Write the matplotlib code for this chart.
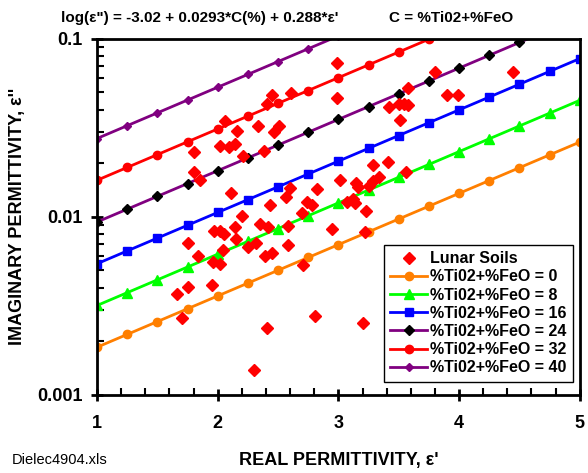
import numpy as np
from matplotlib import pyplot as plt
from matplotlib.ticker import MultipleLocator, LogLocator, NullFormatter

plt.rcParams['font.family'] = ['Liberation Sans', 'DejaVu Sans']

# lunar soil samples: real permittivity, imaginary permittivity
soil_eps_real = [2.99, 3.80, 4.45, 3.58, 3.90, 3.99, 2.99, 3.42, 3.50, 3.54,
                 3.58, 3.51, 2.45, 2.61, 2.41, 2.06, 2.16, 2.33, 2.51, 2.47,
                 1.80, 2.02, 2.09, 2.14, 2.21, 2.38, 1.80, 1.85, 2.11, 2.43,
                 2.60, 2.57, 2.82, 2.74, 2.78, 2.70, 2.20, 3.29, 3.41, 3.56,
                 3.01, 3.15, 3.16, 3.29, 3.34, 3.25, 3.07, 3.12, 3.14, 3.23,
                 2.95, 3.22, 2.14, 1.97, 2.02, 2.05, 2.35, 2.42, 2.58, 2.15,
                 1.75, 2.32, 2.25, 2.58, 2.04, 1.84, 1.96, 2.02, 2.39, 2.45,
                 2.71, 1.75, 1.95, 1.66, 1.70, 2.81, 2.41, 3.20, 2.30]
soil_eps_imag = [0.0733, 0.0653, 0.0653, 0.0531, 0.0484, 0.0484, 0.0466, 0.0415, 0.0431, 0.0431,
                 0.0426, 0.0351, 0.0484, 0.0497, 0.0431, 0.0346, 0.0304, 0.0325, 0.0325, 0.0300,
                 0.0232, 0.0251, 0.0247, 0.0257, 0.0220, 0.0235, 0.0179, 0.0161, 0.0136, 0.0117,
                 0.0146, 0.0130, 0.0144, 0.0121, 0.0117, 0.0105, 0.0101, 0.0196, 0.0204, 0.0179,
                 0.0161, 0.0155, 0.0148, 0.0159, 0.0168, 0.0149, 0.0121, 0.0126, 0.0120, 0.0108,
                 0.00857, 0.00824, 0.00879, 0.00834, 0.00834, 0.00802, 0.00914, 0.00879, 0.00890, 0.00752,
                 0.00714, 0.00714, 0.00678, 0.00696, 0.00653, 0.00604, 0.00559, 0.00545, 0.00604, 0.00628,
                 0.00537, 0.00404, 0.00415, 0.00369, 0.00271, 0.00278, 0.00238, 0.00254, 0.00138]

# model from the chart heading: log(e'') = a + b*C + c*e'
fit_a = -3.02
fit_b = 0.0293
fit_c = 0.288
compositions = [0, 8, 16, 24, 32, 40]
model_eps_real = [1.0, 1.25, 1.5, 1.75, 2.0, 2.25, 2.5, 2.75, 3.0,
                  3.25, 3.5, 3.75, 4.0, 4.25, 4.5, 4.75, 5.0]

line_colors = ['#FF7F00', '#00FF00', '#0000FF', '#800080', '#FF0000', '#800080']
marker_colors = ['#FF7F00', '#00FF00', '#0000FF', '#000000', '#FF0000', '#800080']
markers = ['o', '^', 's', 'D', 'o', 'D']
marker_sizes = [6, 6.5, 6, 4.8, 6, 4.3]

fig = plt.figure(figsize=(5.88, 4.73), dpi=100)
ax = fig.add_axes([0.165, 0.165, 0.821, 0.753])

ax.plot(soil_eps_real, soil_eps_imag, ls='none', marker='D', ms=6.2,
        color='#FF0000', mec='#FF0000', label='Lunar Soils', zorder=3)

xs = np.array(model_eps_real)
for comp, lc, mc, mk, msz in zip(compositions, line_colors, marker_colors, markers, marker_sizes):
  ys = 10 ** (fit_a + fit_b * comp + fit_c * xs)
  ax.plot(xs, ys, color=lc, lw=2, marker=mk, ms=msz, mfc=mc, mec=mc,
          label='%Ti02+%FeO = {}'.format(comp), zorder=2)

ax.set_yscale('log')
ax.set_xlim(1, 5)
ax.set_ylim(0.001, 0.1)
ax.set_xticks([1, 2, 3, 4, 5])
ax.set_xticklabels(['1', '2', '3', '4', '5'])
ax.xaxis.set_minor_locator(MultipleLocator(0.2))
ax.set_yticks([0.001, 0.01, 0.1])
ax.set_yticklabels(['0.001', '0.01', '0.1'])
ax.yaxis.set_minor_locator(LogLocator(base=10, subs=np.arange(2, 10)))
ax.yaxis.set_minor_formatter(NullFormatter())

for s in ax.spines.values():
  s.set_linewidth(2)
ax.tick_params(which='major', direction='inout', length=9, width=2, labelsize=13, pad=6)
ax.tick_params(which='minor', direction='in', length=5, width=1.5)
ax.tick_params(axis='x', which='major', pad=10)
for lab in ax.get_xticklabels() + ax.get_yticklabels():
  lab.set_fontweight('bold')

ax.set_xlabel("REAL PERMITTIVITY, ε'", fontsize=13, fontweight='bold', labelpad=14)
ax.set_ylabel("IMAGINARY PERMITTIVITY, ε''", fontsize=13, fontweight='bold', labelpad=8)

fig.text(0.34, 0.963, 'log(ε") = -3.02 + 0.0293*C(%) + 0.288*ε\'', fontsize=11,
         fontweight='bold', ha='center', va='center')
fig.text(0.767, 0.963, 'C = %Ti02+%FeO', fontsize=11, fontweight='bold',
         ha='center', va='center')
fig.text(0.02, 0.028, 'Dielec4904.xls', fontsize=10.5, ha='left', va='center')

leg = ax.legend(loc='lower right', bbox_to_anchor=(0.986, 0.037), fancybox=False,
                edgecolor='black', framealpha=1, borderpad=0.4, labelspacing=0.2,
                handlelength=2.3, handletextpad=0.2, borderaxespad=0,
                prop={'weight': 'bold', 'size': 11.5})
leg.get_frame().set_linewidth(1)

fig.savefig('out.png', dpi=100)
